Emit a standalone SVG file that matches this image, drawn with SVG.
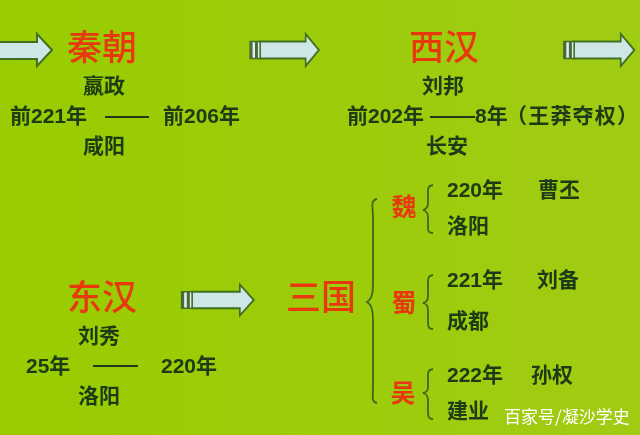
<svg xmlns="http://www.w3.org/2000/svg" width="640" height="435" viewBox="0 0 640 435">
<defs>
<linearGradient id="bg" x1="0" y1="0" x2="1" y2="0"><stop offset="0" stop-color="#99cc00"/><stop offset="1" stop-color="#a0cc14"/></linearGradient>
<filter id="soft" x="-5%" y="-5%" width="110%" height="110%"><feGaussianBlur stdDeviation="0.5"/></filter>
<g id="arrow"><path class="arr" d="M0 -8.500H55V-16L71 0L55 16V8.500H0Z"/><rect class="cap" x="-12" y="-8.500" width="12" height="17"/><rect class="capi" x="-12" y="-8.500" width="3" height="17"/><rect class="capi" x="-6" y="-8.500" width="3.500" height="17"/></g>
</defs>
<style>
text{font-family:"Liberation Sans","Noto Sans CJK SC",sans-serif;fill:#1d3a12;font-size:21px;font-weight:700;text-anchor:start}
.cn{font-family:"Noto Sans CJK SC",sans-serif;font-weight:700}
.t{font-family:"Noto Sans CJK SC",sans-serif;font-size:35px;font-weight:500;fill:#e8380f;text-anchor:middle}
.s{font-size:25px;font-family:"Noto Sans CJK SC",sans-serif;font-weight:700;fill:#e8380f;text-anchor:middle}
.m{text-anchor:middle}
.q{letter-spacing:1.200px}
.arr{fill:#cfe6e6;stroke:#3f7020;stroke-width:2}
.cap{fill:#dfeee6;stroke:#3f7020;stroke-width:1.500}
.capi{fill:#4a6a40}
.ln{stroke:#1d3a12;stroke-width:2;fill:none}
.br{stroke:#3a6a1a;stroke-width:1.800;fill:none}
.wm{fill:#fff;font-size:17px;font-weight:400;font-family:"Noto Sans CJK SC",sans-serif;text-anchor:start}
</style>
<rect width="640" height="435" fill="url(#bg)"/>
<g filter="url(#soft)">
<g id="connectors">
<path class="arr" d="M-2 42H37V34L52 50L37 66V59H-2Z"/>
<use href="#arrow" transform="translate(260 50) scale(0.83 1)"/>
<use href="#arrow" transform="translate(574 50) scale(0.85 1)"/>
<use href="#arrow" transform="translate(192 300) scale(0.87 0.97)"/>
<path class="ln" d="M105 117H149M430 117H475M93 366H138"/>
<path class="br" d="M377 199C370 200 373 208 373 216V285C373 296 371 300 367 302C371 304 373 308 373 319V387C373 396 371 402 377 403"/>
<path class="br" d="M433 185C427 186 428 190 428 194V203C428 207 427 209 423 210C427 211 428 213 428 217V226C428 231 428 233 433 233"/>
<path class="br" d="M433 275C427 276 428 280 428 284V295C428 300 427 302 423 303C427 304 428 306 428 311V321C428 326 428 329 433 329"/>
<path class="br" d="M433 369C427 370 428 374 428 378V386C428 391 427 392 423 393C427 394 428 396 428 400V410C428 416 428 419 433 419"/>
</g>
<g id="qin"><text class="t" x="102" y="60">秦朝</text><text class="cn m" x="104" y="93">嬴政</text><text x="10" y="123"><tspan class="cn">前</tspan>221<tspan class="cn">年</tspan></text><text x="163" y="123"><tspan class="cn">前</tspan>206<tspan class="cn">年</tspan></text><text class="cn m" x="104" y="153">咸阳</text></g>
<g id="xihan"><text class="t" x="444" y="60">西汉</text><text class="cn m" x="443" y="93">刘邦</text><text x="347" y="123"><tspan class="cn">前</tspan>202<tspan class="cn">年</tspan></text><text x="475" y="123">8<tspan class="cn">年</tspan></text><text class="cn q" x="506" y="123">（王莽夺权）</text><text class="cn m" x="447" y="153">长安</text></g>
<g id="donghan"><text class="t" x="102" y="310">东汉</text><text class="cn m" x="99" y="343">刘秀</text><text x="26" y="373">25<tspan class="cn">年</tspan></text><text x="161" y="373">220<tspan class="cn">年</tspan></text><text class="cn m" x="99" y="403">洛阳</text></g>
<g id="sanguo"><text class="t" x="321" y="310">三国</text></g>
<g id="wei"><text class="s" x="404" y="216">魏</text><text x="447" y="197">220<tspan class="cn">年</tspan></text><text class="cn" x="538" y="197">曹丕</text><text class="cn" x="447" y="233">洛阳</text></g>
<g id="shu"><text class="s" x="404" y="312">蜀</text><text x="447" y="287">221<tspan class="cn">年</tspan></text><text class="cn" x="537" y="287">刘备</text><text class="cn" x="447" y="328">成都</text></g>
<g id="wu"><text class="s" x="403" y="402">吴</text><text x="447" y="382">222<tspan class="cn">年</tspan></text><text class="cn" x="531" y="382">孙权</text><text class="cn" x="447" y="418">建业</text></g>
</g>
<text class="wm" x="504" y="423">百家号/凝沙学史</text>
</svg>
